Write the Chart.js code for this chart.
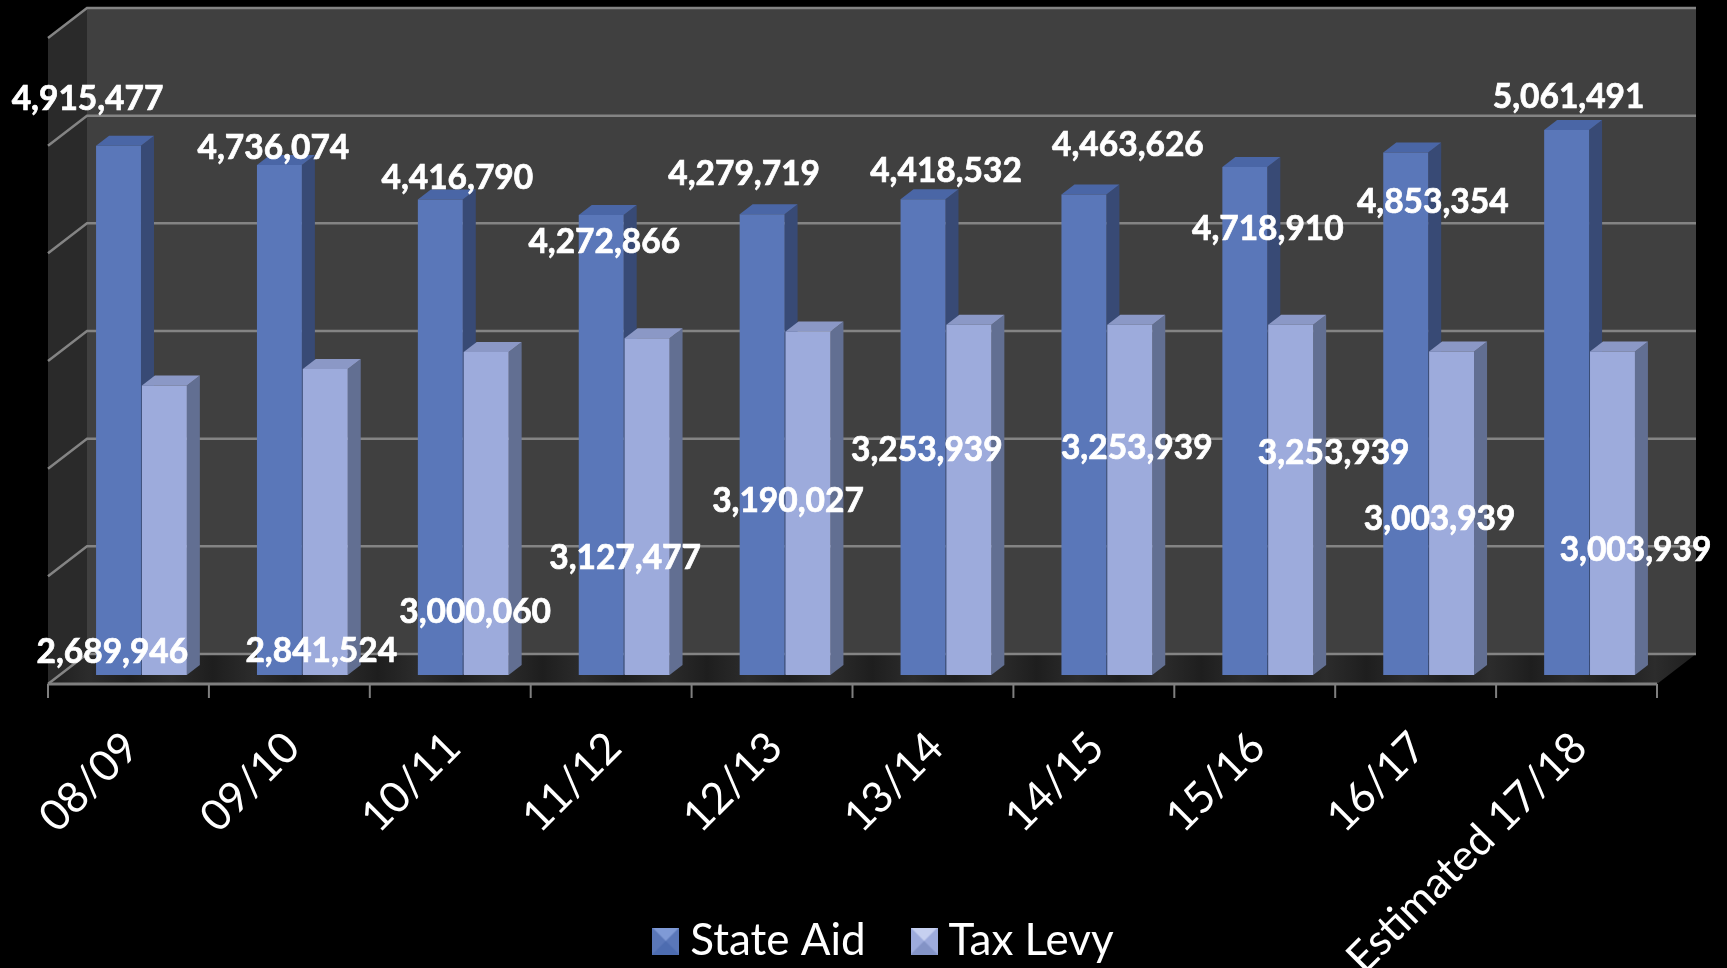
<!DOCTYPE html>
<html>
<head>
<meta charset="utf-8">
<style>
html, body { margin: 0; padding: 0; background: #000; overflow: hidden; }
canvas { display: block; }
</style>
<script src="https://cdn.jsdelivr.net/npm/chart.js@4/dist/chart.umd.min.js"></script>
</head>
<body>
<canvas id="chart" width="1727" height="968"></canvas>
<script>
// values
let categories = ['08/09', '09/10', '10/11', '11/12', '12/13', '13/14', '14/15', '15/16', '16/17', 'Estimated 17/18'];
let stateAid = [4915477, 4736074, 4416790, 4272866, 4279719, 4418532, 4463626, 4718910, 4853354, 5061491];
let taxLevy = [2689946, 2841524, 3000060, 3127477, 3190027, 3253939, 3253939, 3253939, 3003939, 3003939];

// the labels were dragged around by hand in the original, [dx, dy] from the bar's top centre
let stateLabelShift = [[-31, -47], [-6, -17], [17, -21], [3, 27], [-18, -40], [23, -28], [44, -49], [23, 62], [27, 50], [2, -33]];
let taxLabelShift = [[-52, 267], [-4, 282], [-11, 260], [-22, 220], [-20, 170], [-42, 126], [7, 124], [43, 129], [-12, 168], [23, 199]];

// 3d look: how far the floor/walls and the bars go back
let depthX = 13, depthY = 9, backY = 21;
let barDepthX = 13, barDepthY = 10;

let fontName = 'Lato, "Open Sans", sans-serif';

function legendSwatch(top, side, bottom) {
    // little pyramid square like the office legend keys
    let c = document.createElement('canvas');
    c.width = 27;
    c.height = 27;
    let g = c.getContext('2d');
    let tri = function (col, pts) {
        g.fillStyle = col;
        g.beginPath();
        g.moveTo(pts[0], pts[1]);
        g.lineTo(pts[2], pts[3]);
        g.lineTo(pts[4], pts[5]);
        g.fill();
    };
    g.fillStyle = side;
    g.fillRect(0, 0, 27, 27);
    tri(top, [0, 0, 27, 0, 13.5, 13.5]);
    tri(bottom, [0, 27, 27, 27, 13.5, 13.5]);
    return c;
}

let swatches = [
    legendSwatch('#7f9ad6', '#5a77b9', '#4d6cb0'),
    legendSwatch('#c6d0f0', '#9dabdc', '#8393c6')
];

function frontGradient(ctx, base, edge, hi) {
    let el = ctx.element;
    if (!el || el.x === undefined) return base;
    let w = el.width || 45;
    let g = ctx.chart.ctx.createLinearGradient(el.x - w / 2, 0, el.x + w / 2, 0);
    g.addColorStop(0, edge);
    g.addColorStop(0.04, base);
    g.addColorStop(0.9, base);
    g.addColorStop(0.96, hi);
    g.addColorStop(1, edge);
    return g;
}

let scene3d = {
    id: 'scene3d',
    afterLayout(chart) {
        // long rotated tick label runs off the page, don't let the scale clip it earlier
        chart.scales.x.bottom = chart.height;
        chart.legend.left += 23;
        chart.legend.right += 23;
        chart.legend.top += 5;
        chart.legend.bottom += 5;
    },
    beforeDatasetsDraw(chart) {
        let ctx = chart.ctx, a = chart.chartArea, y = chart.scales.y;
        let fx = a.left - depthX, fy = a.bottom + depthY;
        let rx = a.right - depthX;
        let bx = a.left + 2 * depthX, rbx = a.right + 2 * depthX;
        let by = a.bottom - backY, ty = a.top - backY;
        let topFront = a.top + depthY;

        // back wall
        ctx.fillStyle = '#404040';
        ctx.fillRect(bx, ty, rbx - bx, by - ty);

        // left wall
        ctx.fillStyle = '#2a2a2a';
        ctx.beginPath();
        ctx.moveTo(fx, topFront);
        ctx.lineTo(bx, ty);
        ctx.lineTo(bx, by);
        ctx.lineTo(fx, fy);
        ctx.fill();

        // floor with its sheen
        let sheen = ctx.createLinearGradient(fx, 0, rbx, 0);
        for (let i = 0; i <= 40; i++) {
            sheen.addColorStop(i / 40, i % 2 ? '#2c2c2c' : '#1e1e1e');
        }
        ctx.fillStyle = sheen;
        ctx.beginPath();
        ctx.moveTo(fx, fy);
        ctx.lineTo(bx, by);
        ctx.lineTo(rbx, by);
        ctx.lineTo(rx, fy);
        ctx.fill();

        // gridlines, back wall then left wall
        ctx.strokeStyle = '#848484';
        ctx.lineWidth = 2.5;
        y.ticks.forEach(function (t) {
            let py = y.getPixelForValue(t.value);
            ctx.beginPath();
            ctx.moveTo(fx, py + depthY);
            ctx.lineTo(bx, py - backY);
            ctx.lineTo(rbx, py - backY);
            ctx.stroke();
        });

        // axis line along the front of the floor + tick marks
        let step = (a.right - a.left) / categories.length;
        ctx.lineWidth = 3;
        ctx.strokeStyle = '#7f7f7f';
        ctx.beginPath();
        ctx.moveTo(fx, fy);
        ctx.lineTo(rx, fy);
        ctx.stroke();
        ctx.lineWidth = 2;
        for (let i = 0; i <= categories.length; i++) {
            let tx = chart.scales.x.getPixelForTick(0) - step / 2 + i * step - depthX;
            ctx.beginPath();
            ctx.moveTo(tx, fy);
            ctx.lineTo(tx, fy + 14);
            ctx.stroke();
        }

        // side and top faces of the bars, the fronts are the real chart bars
        let faces = [['#384a75', '#4a66a6'], ['#626f92', '#8b98c6']];
        chart.data.datasets.forEach(function (ds, d) {
            chart.getDatasetMeta(d).data.forEach(function (bar) {
                let r = bar.x + bar.width / 2, l = bar.x - bar.width / 2;
                ctx.fillStyle = faces[d][0];
                ctx.beginPath();
                ctx.moveTo(r, bar.y);
                ctx.lineTo(r + barDepthX, bar.y - barDepthY);
                ctx.lineTo(r + barDepthX, bar.base - barDepthY);
                ctx.lineTo(r, bar.base);
                ctx.fill();
                ctx.fillStyle = faces[d][1];
                ctx.beginPath();
                ctx.moveTo(l, bar.y);
                ctx.lineTo(l + barDepthX, bar.y - barDepthY);
                ctx.lineTo(r + barDepthX, bar.y - barDepthY);
                ctx.lineTo(r, bar.y);
                ctx.fill();
            });
        });
    },
    afterDatasetsDraw(chart) {
        let ctx = chart.ctx;
        let shifts = [stateLabelShift, taxLabelShift];
        ctx.save();
        ctx.fillStyle = '#fff';
        ctx.strokeStyle = '#fff';
        ctx.lineWidth = 0.7;
        ctx.font = 'bold 33.5px ' + fontName;
        ctx.textAlign = 'center';
        ctx.textBaseline = 'middle';
        chart.data.datasets.forEach(function (ds, d) {
            chart.getDatasetMeta(d).data.forEach(function (bar, i) {
                let txt = ds.data[i].toLocaleString('en-US');
                ctx.fillText(txt, bar.x + shifts[d][i][0], bar.y + shifts[d][i][1]);
                ctx.strokeText(txt, bar.x + shifts[d][i][0], bar.y + shifts[d][i][1]);
            });
        });
        ctx.restore();
    }
};

let chartEl = document.getElementById('chart');
let mainChart = new Chart(chartEl.getContext('2d'), {
    type: 'bar',
    data: {
        labels: categories,
        datasets: [{
            label: 'State Aid',
            data: stateAid,
            backgroundColor: function (ctx) { return frontGradient(ctx, '#5a77b9', '#4a66a6', '#5f7cbe'); }
        }, {
            label: 'Tax Levy',
            data: taxLevy,
            backgroundColor: function (ctx) { return frontGradient(ctx, '#9dabdc', '#7f8dbe', '#a9b6e6'); }
        }]
    },
    options: {
        responsive: false,
        animation: false,
        layout: { padding: { left: 61, right: 57, top: 29, bottom: 0 } },
        datasets: { bar: { categoryPercentage: 0.57, barPercentage: 0.98 } },
        scales: {
            x: {
                grid: { display: false },
                border: { display: false },
                afterFit: function (s) { s.height = 183; },
                ticks: {
                    color: '#fff',
                    font: { family: fontName, size: 43 },
                    minRotation: 45,
                    maxRotation: 45,
                    padding: 39,
                    labelOffset: -10,
                    autoSkip: false
                }
            },
            y: {
                min: 0,
                max: 6000000,
                grid: { display: false },
                border: { display: false },
                afterFit: function (s) { s.width = 0; },
                ticks: { display: false, stepSize: 1000000 }
            }
        },
        plugins: {
            tooltip: { enabled: false },
            legend: {
                position: 'bottom',
                labels: {
                    color: '#fff',
                    font: { family: fontName, size: 44 },
                    usePointStyle: true,
                    pointStyleWidth: 5,
                    padding: 56,
                    generateLabels: function (chart) {
                        return chart.data.datasets.map(function (ds, i) {
                            return { text: ds.label, fontColor: '#fff', pointStyle: swatches[i], datasetIndex: i, lineWidth: 0 };
                        });
                    }
                }
            }
        }
    },
    plugins: [scene3d]
});
</script>
</body>
</html>
